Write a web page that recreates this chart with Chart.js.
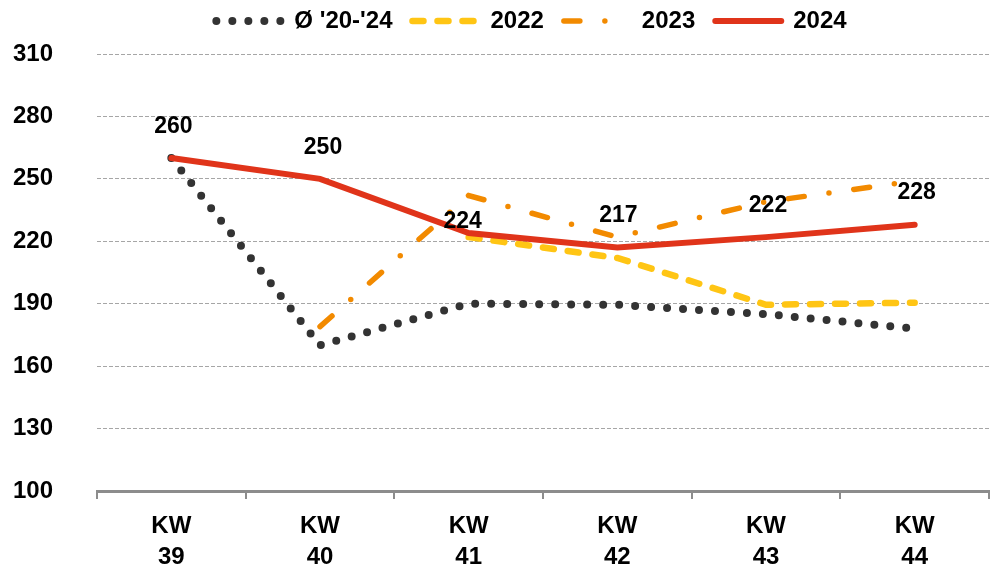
<!DOCTYPE html>
<html>
<head>
  <title>KW 39-44</title>
  <script src="https://cdn.jsdelivr.net/npm/chart.js"></script>
  <style>
    body { margin: 0; background: #fff; }
    .chart-container { width: 1000px; height: 574px; }
  </style>
</head>
<body>
  <div class="chart-container">
    <canvas id="chart"></canvas>
  </div>

  <script>
    const weeks = [["KW", "39"], ["KW", "40"], ["KW", "41"], ["KW", "42"], ["KW", "43"], ["KW", "44"]];
    const avg2024 = [260, 170, 190, 189.5, 185, 178];
    const values2022 = [null, null, 222, 212, 189.5, 190.5];
    const values2023 = [null, 179, 242, 222, 239, 249];
    const values2024 = [260, 250, 224, 217, 222, 228];
    const yTicks = [100, 130, 160, 190, 220, 250, 280, 310];

    // label nudges for the 2024 values (the 224 one sits lower in the original)
    const labelShift = [[2, 0], [3, 0], [-6, 20], [1, -1], [2, 0], [2, -1]];

    const font = "'Liberation Sans', Arial, sans-serif";

    // writes the 2024 values above the red line
    const valueLabels = {
      id: "valueLabels",
      afterDatasetsDraw(chart) {
        const ctx = chart.ctx;
        const meta = chart.getDatasetMeta(3);
        ctx.save();
        ctx.font = "bold 23px " + font;
        ctx.fillStyle = "#000";
        ctx.textAlign = "center";
        ctx.textBaseline = "middle";
        meta.data.forEach((pt, i) => {
          const s = labelShift[i];
          ctx.fillText(values2024[i], pt.x + s[0], pt.y - 31 + s[1]);
        });
        ctx.restore();
      },
    };

    // keep the legend a fixed height and move it where the original has it
    const legendBox = {
      id: "legendBox",
      beforeInit(chart) {
        const legend = chart.legend;
        const fit = legend.fit;
        legend.fit = function () {
          fit.call(this);
          this.height = 54;
        };
      },
      afterLayout(chart) {
        const legend = chart.legend;
        legend.left += 37;
        legend.right += 37;
        legend.top -= 11;
      },
    };

    const chart = new Chart("chart", {
      type: "line",
      data: {
        labels: weeks,
        datasets: [
          {
            label: "Ø '20-'24",
            data: avg2024,
            borderColor: "#333333",
            borderWidth: 8,
            borderDash: [0, 16],
            borderCapStyle: "round",
            order: 1,
          },
          {
            label: "2022",
            data: values2022,
            borderColor: "#FFC514",
            borderWidth: 6.5,
            borderDash: [11, 14],
            borderCapStyle: "round",
            order: 2,
          },
          {
            label: "2023",
            data: values2023,
            borderColor: "#F28A00",
            borderWidth: 5.5,
            borderDash: [16, 25, 0, 25],
            borderCapStyle: "round",
            order: 3,
          },
          {
            label: "2024",
            data: values2024,
            borderColor: "#E0341A",
            borderWidth: 6,
            borderCapStyle: "round",
            order: 0,
          },
        ],
      },
      options: {
        responsive: true,
        maintainAspectRatio: false,
        animation: false,
        layout: { padding: { left: 0, right: 11, top: 0, bottom: 0 } },
        elements: {
          point: { radius: 0, hoverRadius: 0 },
          line: { tension: 0, fill: false },
        },
        plugins: {
          tooltip: { enabled: false },
          legend: {
            position: "top",
            labels: {
              usePointStyle: true,
              pointStyleWidth: 66,
              padding: 20,
              color: "#000",
              font: { family: font, size: 24, weight: "bold" },
              generateLabels(chart) {
                return chart.data.datasets.map((ds, i) => ({
                  text: ds.label,
                  datasetIndex: i,
                  fillStyle: ds.borderColor,
                  strokeStyle: ds.borderColor,
                  fontColor: "#000",
                  lineWidth: ds.borderWidth,
                  lineDash: ds.borderDash || [],
                  lineCap: "round",
                  pointStyle: "line",
                  hidden: false,
                }));
              },
            },
          },
        },
        scales: {
          x: {
            offset: true,
            afterFit(scale) {
              scale.height = 83;
              scale.paddingLeft = 0;
              scale.paddingRight = 0;
            },
            grid: {
              offset: true,
              drawOnChartArea: false,
              drawTicks: true,
              tickLength: 8,
              color: "#8c8c8c",
              lineWidth: 2,
            },
            border: { display: true, color: "#8c8c8c", width: 3 },
            ticks: {
              color: "#000",
              padding: 12,
              maxRotation: 0,
              font: { family: font, size: 24, weight: "bold", lineHeight: 1.3 },
            },
          },
          y: {
            min: 100,
            max: 310,
            afterFit(scale) {
              scale.width = 97;
              scale.paddingTop = 0;
              scale.paddingBottom = 0;
            },
            afterBuildTicks(scale) {
              scale.ticks = yTicks.map((v) => ({ value: v }));
            },
            grid: {
              drawTicks: false,
              color: "#a6a6a6",
              lineWidth: 1,
            },
            border: { display: false, dash: [4, 2] },
            ticks: {
              color: "#000",
              padding: 44,
              font: { family: font, size: 24, weight: "bold" },
            },
          },
        },
      },
      plugins: [valueLabels, legendBox],
    });
  </script>
</body>
</html>
